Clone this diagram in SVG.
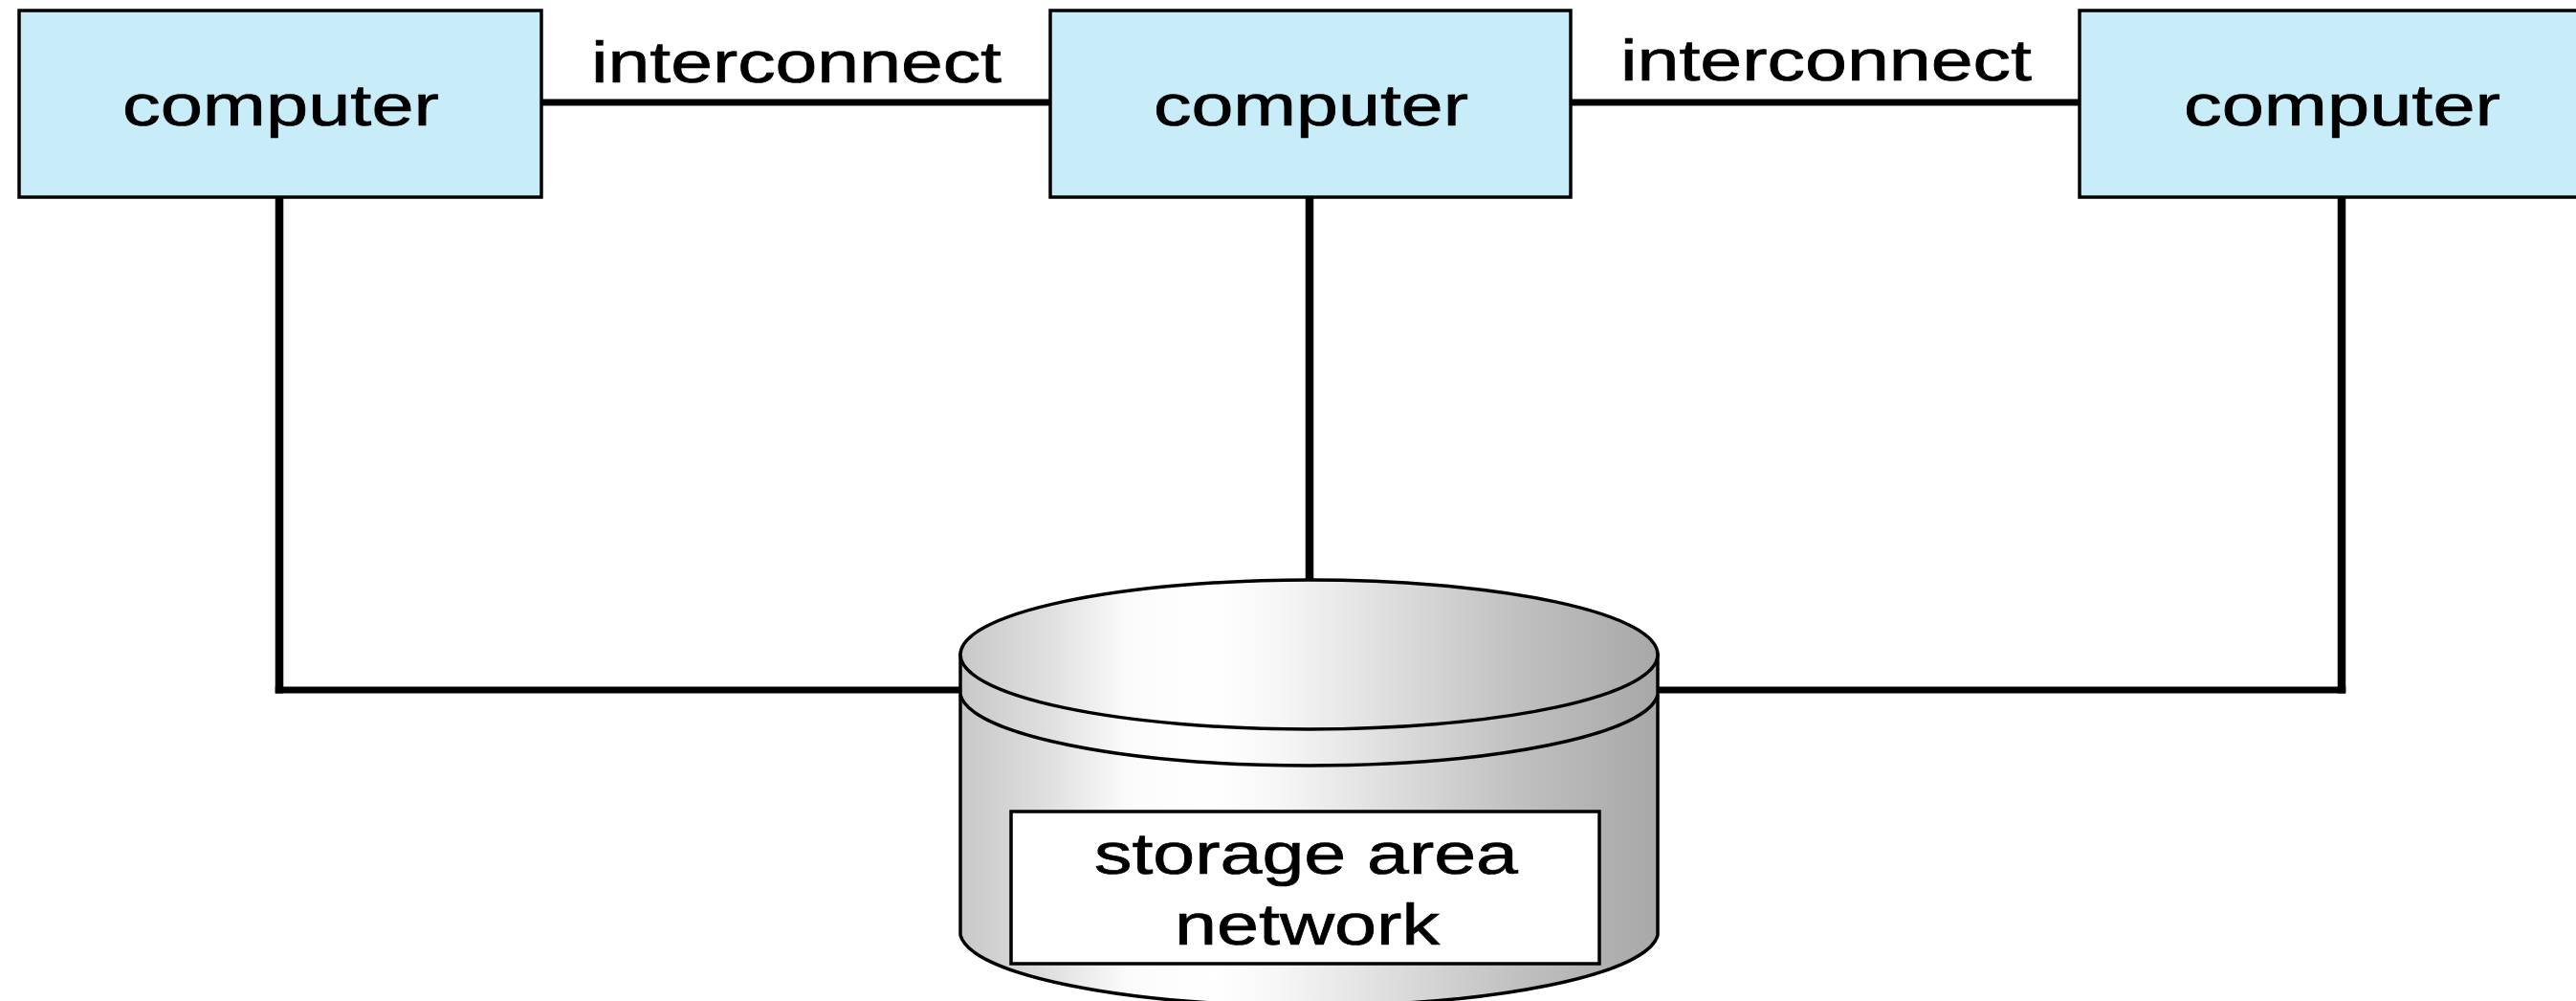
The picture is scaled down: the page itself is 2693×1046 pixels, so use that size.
<svg xmlns="http://www.w3.org/2000/svg" width="2693" height="1046" viewBox="0 0 2693 1046">
<style>
.box{fill:#c9ecf9;stroke:#000;stroke-width:3.500}
.wire{fill:none;stroke:#000;stroke-width:7}
.wv{fill:none;stroke:#000;stroke-width:8.500}
.cyl{stroke:#000;stroke-width:3.500;fill:url(#g)}
.t{font-family:"Liberation Sans",Arial,sans-serif;font-size:62px;fill:#000;stroke:#000;stroke-width:.7}
</style>
<defs>
<linearGradient id="g" gradientUnits="userSpaceOnUse" x1="1004" y1="0" x2="1733" y2="0">
<stop offset="0" stop-color="#c8c8c8"/>
<stop offset=".13" stop-color="#e0e0e0"/>
<stop offset=".24" stop-color="#fbfbfb"/>
<stop offset=".36" stop-color="#fff"/>
<stop offset=".46" stop-color="#f6f6f6"/>
<stop offset=".6" stop-color="#e0e0e0"/>
<stop offset=".8" stop-color="#c0c0c0"/>
<stop offset="1" stop-color="#a8a8a8"/>
</linearGradient>
</defs>
<rect width="2693" height="1046" fill="#fff"/>
<g id="connectors">
<path class="wire" d="M566 107H1098"/>
<path class="wire" d="M1642 107H2174"/>
<path class="wire" d="M287.750 721H1004"/>
<path class="wire" d="M1733 721H2452.250"/>
<path class="wv" d="M292 204V724.500"/>
<path class="wv" d="M1369 204V607"/>
<path class="wv" d="M2448 204V724.500"/>
</g>
<g id="computer1"><rect class="box" x="20" y="11" width="546" height="195"/><text class="t" x="128" y="131" textLength="331" lengthAdjust="spacingAndGlyphs">computer</text></g>
<g id="computer2"><rect class="box" x="1098" y="11" width="544" height="195"/><text class="t" x="1206" y="131" textLength="329" lengthAdjust="spacingAndGlyphs">computer</text></g>
<g id="computer3"><rect class="box" x="2174" y="11" width="522" height="195"/><text class="t" x="2283" y="131" textLength="331" lengthAdjust="spacingAndGlyphs">computer</text></g>
<g id="label1"><text class="t" x="618" y="86" textLength="429" lengthAdjust="spacingAndGlyphs">interconnect</text></g>
<g id="label2"><text class="t" x="1694" y="84" textLength="430" lengthAdjust="spacingAndGlyphs">interconnect</text></g>
<g id="storage">
<path class="cyl" d="M1004 684V977A365 78 0 0 0 1733 977V684Z"/>
<path class="cyl" d="M1004 726A365 78 0 0 0 1733 726"/>
<ellipse class="cyl" cx="1368.500" cy="684" rx="364.500" ry="78"/>
<rect x="1057" y="848" width="615" height="159" fill="#fff" stroke="#000" stroke-width="3.500"/>
<text class="t" x="1144" y="913" textLength="443" lengthAdjust="spacingAndGlyphs">storage area</text>
<text class="t" x="1228" y="987" textLength="277" lengthAdjust="spacingAndGlyphs">network</text>
</g>
</svg>
